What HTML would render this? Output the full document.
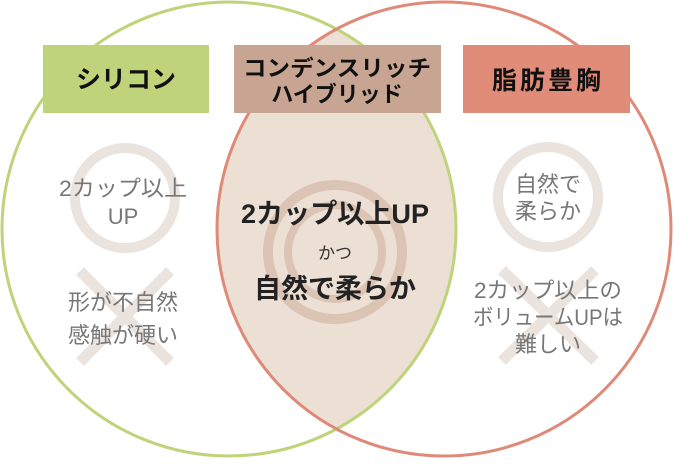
<!DOCTYPE html>
<html><head><meta charset="utf-8"><style>
html,body{margin:0;padding:0;background:#fff}
svg text{font-family:"Liberation Sans","Noto Sans CJK JP",sans-serif}
</style></head><body>
<svg width="674" height="459" viewBox="0 0 674 459" xmlns="http://www.w3.org/2000/svg">
<defs>
<clipPath id="cl"><circle cx="229" cy="229" r="227"/></clipPath>
</defs>
<circle cx="444" cy="229" r="227" fill="#ecdfd3" clip-path="url(#cl)"/>
<circle cx="229" cy="229" r="227" fill="none" stroke="#bfd47a" stroke-width="3"/>
<circle cx="444" cy="229" r="227" fill="none" stroke="#df8a78" stroke-width="3"/>

<rect x="43" y="45" width="166" height="68" fill="#bfd47a"/>
<rect x="234" y="45" width="207" height="68" fill="#c8a592"/>
<rect x="463" y="45" width="167" height="68" fill="#e08c78"/>
<text x="126" y="88" font-size="25" font-weight="bold" text-anchor="middle" fill="#111">シリコン</text>
<text x="337" y="76" font-size="22" font-weight="bold" text-anchor="middle" fill="#111" textLength="188" lengthAdjust="spacingAndGlyphs">コンデンスリッチ</text>
<text x="337" y="102" font-size="22" font-weight="bold" text-anchor="middle" fill="#111">ハイブリッド</text>
<text x="548" y="89" font-size="25" font-weight="bold" text-anchor="middle" fill="#111" letter-spacing="3">脂肪豊胸</text>

<circle cx="125" cy="198" r="50" fill="none" stroke="#ebe3dd" stroke-width="10"/>
<path d="M80 271 L170 362 M170 271 L80 362" stroke="#ebe3dd" stroke-width="11"/>
<circle cx="548" cy="197" r="50" fill="none" stroke="#ebe3dd" stroke-width="10"/>
<path d="M502 270 L595 361 M595 270 L502 361" stroke="#ebe3dd" stroke-width="11"/>
<circle cx="335" cy="252" r="67" fill="none" stroke="#dcc4b4" stroke-width="10"/>
<circle cx="335" cy="252" r="47" fill="none" stroke="#dcc4b4" stroke-width="8"/>

<g font-size="22" fill="#777" text-anchor="middle">
<text x="123" y="196" textLength="128" lengthAdjust="spacingAndGlyphs">2カップ以上</text>
<text x="123" y="224">UP</text>
<text x="123" y="310">形が不自然</text>
<text x="123" y="343">感触が硬い</text>
<text x="548" y="192">自然で</text>
<text x="548" y="219">柔らか</text>
<text x="548" y="298" textLength="148" lengthAdjust="spacingAndGlyphs">2カップ以上の</text>
<text x="548" y="325" textLength="150" lengthAdjust="spacingAndGlyphs">ボリュームUPは</text>
<text x="548" y="352">難しい</text>
</g>
<text x="335" y="223" font-size="27" font-weight="bold" text-anchor="middle" fill="#222" textLength="188" lengthAdjust="spacingAndGlyphs">2カップ以上UP</text>
<text x="335" y="259" font-size="17" text-anchor="middle" fill="#333">かつ</text>
<text x="335" y="298" font-size="27" font-weight="bold" text-anchor="middle" fill="#222">自然で柔らか</text>
</svg>
</body></html>
